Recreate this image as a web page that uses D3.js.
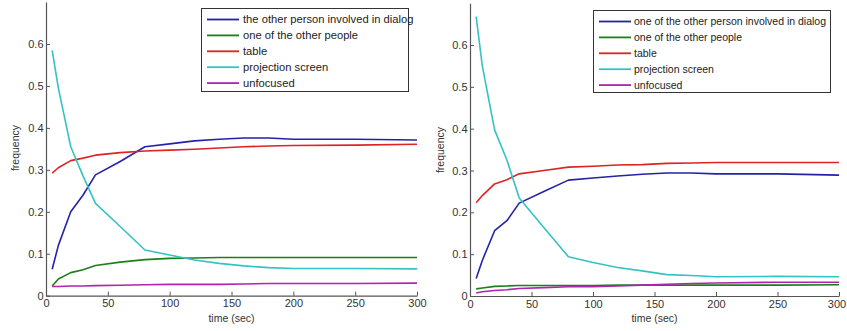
<!DOCTYPE html>
<html>
<head>
<meta charset="utf-8">
<script src="https://cdn.jsdelivr.net/npm/d3@7"></script>
<style>
  body { margin: 0; background: #fff; }
  svg { display: block; font-family: "Liberation Sans", Arial, sans-serif; }
</style>
</head>
<body>
<svg id="chart" width="847" height="331"></svg>
<script>
// ---- Data ----
const times = [5, 10, 20, 30, 40, 60, 80, 100, 120, 140, 160, 180, 200, 250, 300];
const xTicks = [0, 50, 100, 150, 200, 250, 300];
const yTicks = [0, 0.1, 0.2, 0.3, 0.4, 0.5, 0.6];
const yTickLabels = ["0", "0.1", "0.2", "0.3", "0.4", "0.5", "0.6"];
const seriesColors = ["#2323a8", "#1b7f1b", "#dd2323", "#35c2c2", "#b024b0"];

const leftNames = ["the other person involved in dialog", "one of the other people", "table", "projection screen", "unfocused"];
const leftDialog    = [0.063, 0.12, 0.200, 0.240, 0.288, 0.320, 0.355, 0.362, 0.369, 0.373, 0.376, 0.376, 0.373, 0.373, 0.371];
const leftOthers    = [0.023, 0.040, 0.055, 0.062, 0.072, 0.080, 0.086, 0.089, 0.090, 0.091, 0.091, 0.091, 0.091, 0.091, 0.091];
const leftTable     = [0.292, 0.305, 0.322, 0.328, 0.335, 0.341, 0.345, 0.347, 0.349, 0.352, 0.355, 0.357, 0.358, 0.359, 0.361];
const leftScreen    = [0.585, 0.495, 0.355, 0.285, 0.220, 0.165, 0.109, 0.097, 0.085, 0.077, 0.071, 0.067, 0.065, 0.065, 0.064];
const leftUnfocused = [0.022, 0.022, 0.023, 0.023, 0.024, 0.025, 0.026, 0.027, 0.027, 0.027, 0.028, 0.029, 0.029, 0.029, 0.030];

const rightNames = ["one of the other person involved in dialog", "one of the other people", "table", "projection screen", "unfocused"];
const rightDialog    = [0.042, 0.085, 0.156, 0.180, 0.222, 0.250, 0.277, 0.282, 0.287, 0.291, 0.294, 0.294, 0.292, 0.292, 0.289];
const rightOthers    = [0.017, 0.019, 0.023, 0.024, 0.025, 0.025, 0.025, 0.025, 0.026, 0.026, 0.026, 0.026, 0.026, 0.026, 0.027];
const rightTable     = [0.223, 0.240, 0.268, 0.278, 0.292, 0.300, 0.308, 0.310, 0.313, 0.314, 0.317, 0.318, 0.319, 0.319, 0.319];
const rightScreen    = [0.668, 0.550, 0.397, 0.325, 0.234, 0.164, 0.094, 0.080, 0.068, 0.060, 0.051, 0.049, 0.046, 0.047, 0.046];
const rightUnfocused = [0.007, 0.010, 0.013, 0.015, 0.018, 0.020, 0.022, 0.022, 0.024, 0.026, 0.028, 0.030, 0.031, 0.033, 0.033];

const svg = d3.select("#chart");

function drawPanel(cfg) {
  const x = d3.scaleLinear().domain([0, 300]).range([cfg.x0, cfg.x1]);
  const y = d3.scaleLinear().domain([0, 0.7]).range([cfg.y0, cfg.y0 - (cfg.y0 - cfg.y06) / 0.6 * 0.7]);
  const g = svg.append("g");

  // axes
  const xAxis = d3.axisBottom(x).tickValues(xTicks).tickSize(-4).tickPadding(4).tickSizeOuter(0).tickFormat(d3.format("d"));
  const gx = g.append("g").attr("transform", `translate(0,${cfg.y0})`).call(xAxis);
  const yAxis = d3.axisLeft(y).tickValues(yTicks).tickSize(-4).tickPadding(2.5).tickSizeOuter(0).tickFormat((d, i) => yTickLabels[i]);
  const gy = g.append("g").attr("transform", `translate(${cfg.x0},0)`).call(yAxis);
  [gx, gy].forEach(a => {
    a.select(".domain").attr("stroke", "#555").attr("stroke-width", 1.2);
    a.selectAll(".tick line").attr("stroke", "#555");
    a.selectAll(".tick text").attr("fill", "#333").style("font-size", "11px").style("font-family", "Liberation Sans, Arial, sans-serif");
  });
  if (cfg.lastTickShift) {
    gx.selectAll(".tick text").filter(d => d === 300).attr("dx", cfg.lastTickShift);
  }

  // lines
  const line = d3.line().x((d, i) => x(times[i])).y(d => y(d));
  cfg.series.forEach((s, k) => {
    g.append("path").datum(s).attr("fill", "none").attr("stroke", seriesColors[k])
      .attr("stroke-width", 1.6).attr("stroke-linejoin", "round").attr("d", line);
  });

  // axis labels
  g.append("text").attr("x", (cfg.x0 + cfg.x1) / 2).attr("y", 322).attr("text-anchor", "middle")
    .attr("fill", "#333").style("font-size", "10.5px").text("time (sec)");
  g.append("text").attr("transform", `translate(${cfg.ylabX},${cfg.ylabY}) rotate(-90)`).attr("text-anchor", "middle")
    .attr("fill", "#333").style("font-size", "10.5px").text("frequency");

  // legend
  const L = cfg.legend;
  g.append("rect").attr("x", L.x).attr("y", L.y).attr("width", L.w).attr("height", L.h)
    .attr("fill", "#fff").attr("stroke", "#333").attr("stroke-width", 1);
  cfg.names.forEach((n, k) => {
    const yy = L.y + 11 + k * 15.9;
    g.append("line").attr("x1", L.lx0).attr("x2", L.lx1).attr("y1", yy).attr("y2", yy)
      .attr("stroke", seriesColors[k]).attr("stroke-width", 1.8);
    g.append("text").attr("x", L.tx).attr("y", yy + 3.8).attr("fill", "#222")
      .style("font-size", L.fs).text(n);
  });
}

drawPanel({
  x0: 46, x1: 417, y0: 295.7, y06: 44,
  series: [leftDialog, leftOthers, leftTable, leftScreen, leftUnfocused],
  names: leftNames,
  ylabX: 19, ylabY: 148,
  legend: { x: 201.5, y: 8.5, w: 207, h: 83, lx0: 207, lx1: 239, tx: 243, fs: "11.2px" }
});

drawPanel({
  x0: 470, x1: 839, y0: 296, y06: 45,
  series: [rightDialog, rightOthers, rightTable, rightScreen, rightUnfocused],
  names: rightNames,
  ylabX: 444, ylabY: 150,
  lastTickShift: -2.5,
  legend: { x: 593.5, y: 10.5, w: 237, h: 82, lx0: 599, lx1: 631, tx: 634, fs: "10.5px" }
});
</script>
</body>
</html>
